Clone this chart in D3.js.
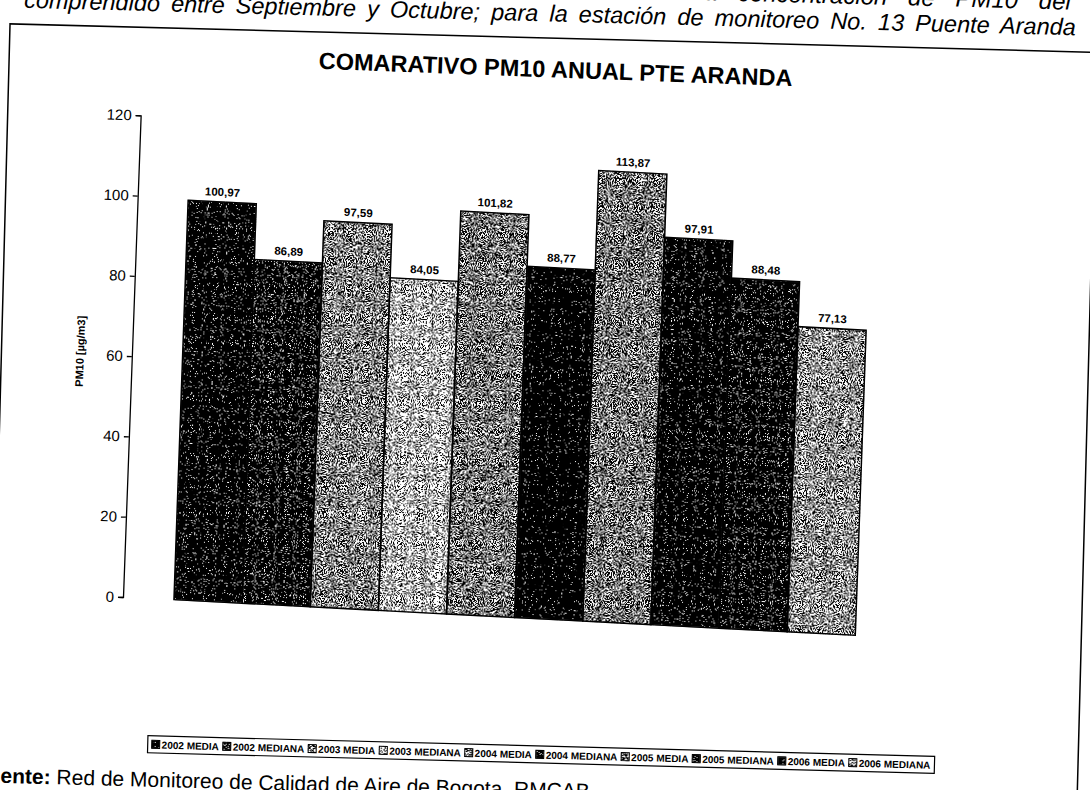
<!DOCTYPE html>
<html>
<head>
<meta charset="utf-8">
<script src="https://cdn.jsdelivr.net/npm/d3@7"></script>
<style>
  html, body { margin: 0; padding: 0; background: #fff; }
  svg { display: block; font-family: "Liberation Sans", Arial, sans-serif; }
</style>
</head>
<body>
<svg id="chart"></svg>
<script>
const SERIES = ['2002 MEDIA', '2002 MEDIANA', '2003 MEDIA', '2003 MEDIANA', '2004 MEDIA',
                '2004 MEDIANA', '2005 MEDIA', '2005 MEDIANA', '2006 MEDIA', '2006 MEDIANA'];
const VALUES = [100.97, 86.89, 97.59, 84.05, 101.82, 88.77, 113.87, 97.91, 88.48, 77.13];
const Y_TICKS = [0, 20, 40, 60, 80, 100, 120];

const TITLE = 'COMARATIVO PM10 ANUAL PTE ARANDA';
const Y_LABEL = 'PM10 [µg/m3]';
const LINE_1 = 'Comportamiento de la concentración de PM10 del bimestre';
const LINE_2 = 'comprendido entre Septiembre y Octubre; para la estación de monitoreo No. 13 Puente Aranda';

// how dark each bar's speckle texture is (share of black dots)
const DARKNESS = [0.88, 0.8, 0.52, 0.42, 0.55, 0.93, 0.55, 0.88, 0.84, 0.5];

const WIDTH = 1090;
const HEIGHT = 790;

const svg = d3.select('#chart')
              .attr('width', WIDTH)
              .attr('height', HEIGHT);

svg.append('rect')
   .attr('width', WIDTH)
   .attr('height', HEIGHT)
   .attr('fill', '#fff');

const defs = svg.append('defs');

// speckled scan-like fill: thresholded noise clipped to the shape
const addTexture = (id, dark, seed) => {
  const f = defs.append('filter')
                .attr('id', id)
                .attr('x', 0).attr('y', 0)
                .attr('width', 1).attr('height', 1)
                .attr('color-interpolation-filters', 'sRGB');
  const s = 40;
  const t = 0.5 + (dark - 0.5) * 0.5;
  f.append('feTurbulence')
   .attr('type', 'fractalNoise')
   .attr('baseFrequency', 0.9)
   .attr('numOctaves', 2)
   .attr('seed', seed)
   .attr('result', 'n');
  f.append('feColorMatrix')
   .attr('in', 'n')
   .attr('type', 'matrix')
   .attr('values', `0 0 0 0 0  0 0 0 0 0  0 0 0 0 0  ${-s} 0 0 0 ${s * t}`)
   .attr('result', 'dots');
  f.append('feFlood').attr('flood-color', '#fff').attr('result', 'w');
  const m = f.append('feMerge').attr('result', 'm');
  m.append('feMergeNode').attr('in', 'w');
  m.append('feMergeNode').attr('in', 'dots');
  f.append('feComposite')
   .attr('in', 'm')
   .attr('in2', 'SourceGraphic')
   .attr('operator', 'in');
};

SERIES.forEach((s, i) => addTexture(`tex${i}`, DARKNESS[i], i + 3));

// spread the words of a text line so it fills a given width
const justify = (sel, width) => {
  const nSpaces = sel.text().split(' ').length - 1;
  const natural = sel.node().getComputedTextLength();
  sel.attr('word-spacing', Math.max(0, (width - natural) / nSpaces));
};

// ---- page (scanned sheet, slightly tilted)
const page = svg.append('g').attr('transform', 'rotate(1.5, 545, 395)');

page.append('rect')
    .attr('x', 0.5)
    .attr('y', 38)
    .attr('width', 1087)
    .attr('height', 820)
    .attr('fill', 'none')
    .attr('stroke', '#000')
    .attr('stroke-width', 1.5);

page.append('text')
    .attr('x', 1173)
    .attr('y', -4)
    .attr('text-anchor', 'end')
    .attr('font-size', 24)
    .attr('font-style', 'italic')
    .attr('word-spacing', 14)
    .text(LINE_1);

page.append('text')
    .attr('x', 14)
    .attr('y', 21.5)
    .attr('font-size', 23.5)
    .attr('font-style', 'italic')
    .text(LINE_2)
    .call(sel => justify(sel, 1052));

const footer = page.append('text')
                   .attr('x', -15)
                   .attr('y', 797)
                   .attr('font-size', 21);
footer.append('tspan').attr('font-weight', 'bold').text('Fuente:');
footer.append('tspan').text(' Red de Monitoreo de Calidad de Aire de Bogota, RMCAB.');

// ---- legend
const LEG = { x: 157, y: 746, w: 787, h: 17 };
const legend = page.append('g');
legend.append('rect')
      .attr('x', LEG.x).attr('y', LEG.y)
      .attr('width', LEG.w).attr('height', LEG.h)
      .attr('fill', '#fff')
      .attr('stroke', '#000')
      .attr('stroke-width', 1.2);

const items = legend.selectAll('.item')
                    .data(SERIES)
                    .enter()
                    .append('g')
                    .classed('item', true);

items.append('rect')
     .attr('width', 8).attr('height', 8)
     .attr('y', LEG.y + 4.5)
     .attr('fill', '#888')
     .attr('filter', (d, i) => `url(#tex${i})`);
items.append('rect')
     .attr('width', 8).attr('height', 8)
     .attr('y', LEG.y + 4.5)
     .attr('fill', 'none')
     .attr('stroke', '#000')
     .attr('stroke-width', 1);
items.append('text')
     .attr('y', LEG.y + 12.5)
     .attr('font-size', 10)
     .attr('font-weight', 'bold')
     .text(d => d);

const widths = [];
items.select('text').each(function () { widths.push(this.getComputedTextLength()); });
const itemW = widths.map(w => 8 + 2 + w);
const gap = (LEG.w - 8 - d3.sum(itemW)) / (SERIES.length - 1);
let cx = LEG.x + 4;
items.each(function (d, i) {
  const g = d3.select(this);
  g.selectAll('rect').attr('x', cx);
  g.select('text').attr('x', cx + 10);
  cx += itemW[i] + gap;
});

// ---- chart
const AX = { x: 123, y0: 597, y1: 115 };

const xScale = d3.scaleBand().domain(SERIES).range([174, 856]).padding(0);
const yScale = d3.scaleLinear().domain([0, 120]).range([AX.y0, AX.y1]);

// axis and title keep the sheet's tilt
const chart = svg.append('g').attr('transform', `rotate(2.1, ${AX.x}, ${AX.y0})`);

chart.append('text')
     .attr('x', 536)
     .attr('y', 62)
     .attr('text-anchor', 'middle')
     .attr('font-size', 23.5)
     .attr('font-weight', 'bold')
     .text(TITLE);

chart.append('g')
     .attr('transform', `translate(${AX.x}, 0)`)
     .call(d3.axisLeft(yScale).tickValues(Y_TICKS).tickSize(5).tickSizeOuter(5).tickPadding(4))
     .call(g => g.selectAll('text')
                 .attr('font-size', 15)
                 .attr('font-family', '"Liberation Sans", Arial, sans-serif'))
     .call(g => g.selectAll('path, line').attr('stroke-width', 1.3));

chart.append('text')
     .attr('transform', 'translate(75, 353) rotate(-90)')
     .attr('text-anchor', 'middle')
     .attr('font-size', 11)
     .attr('font-weight', 'bold')
     .text(Y_LABEL);

// the scan is sheared a bit more where the bars are
const plot = svg.append('g')
                .attr('transform', `translate(${AX.x}, ${AX.y0}) matrix(0.999, 0.0523, -0.035, 0.985, 0, 0) translate(${-AX.x}, ${-AX.y0})`);

plot.selectAll('.bar')
    .data(VALUES)
    .enter()
    .append('rect')
    .classed('bar', true)
    .attr('x', (d, i) => xScale(SERIES[i]))
    .attr('y', d => yScale(d))
    .attr('width', xScale.bandwidth())
    .attr('height', d => yScale(0) - yScale(d))
    .attr('fill', '#888')
    .attr('filter', (d, i) => `url(#tex${i})`);

plot.selectAll('.outline')
    .data(VALUES)
    .enter()
    .append('rect')
    .classed('outline', true)
    .attr('x', (d, i) => xScale(SERIES[i]))
    .attr('y', d => yScale(d))
    .attr('width', xScale.bandwidth())
    .attr('height', d => yScale(0) - yScale(d))
    .attr('fill', 'none')
    .attr('stroke', '#000')
    .attr('stroke-width', 1.5);

plot.selectAll('.label')
    .data(VALUES)
    .enter()
    .append('text')
    .classed('label', true)
    .attr('x', (d, i) => xScale(SERIES[i]) + xScale.bandwidth() / 2)
    .attr('y', d => yScale(d) - 6)
    .attr('text-anchor', 'middle')
    .attr('font-size', 11.5)
    .attr('font-weight', 'bold')
    .text(d => d.toFixed(2).replace('.', ','));
</script>
</body>
</html>
